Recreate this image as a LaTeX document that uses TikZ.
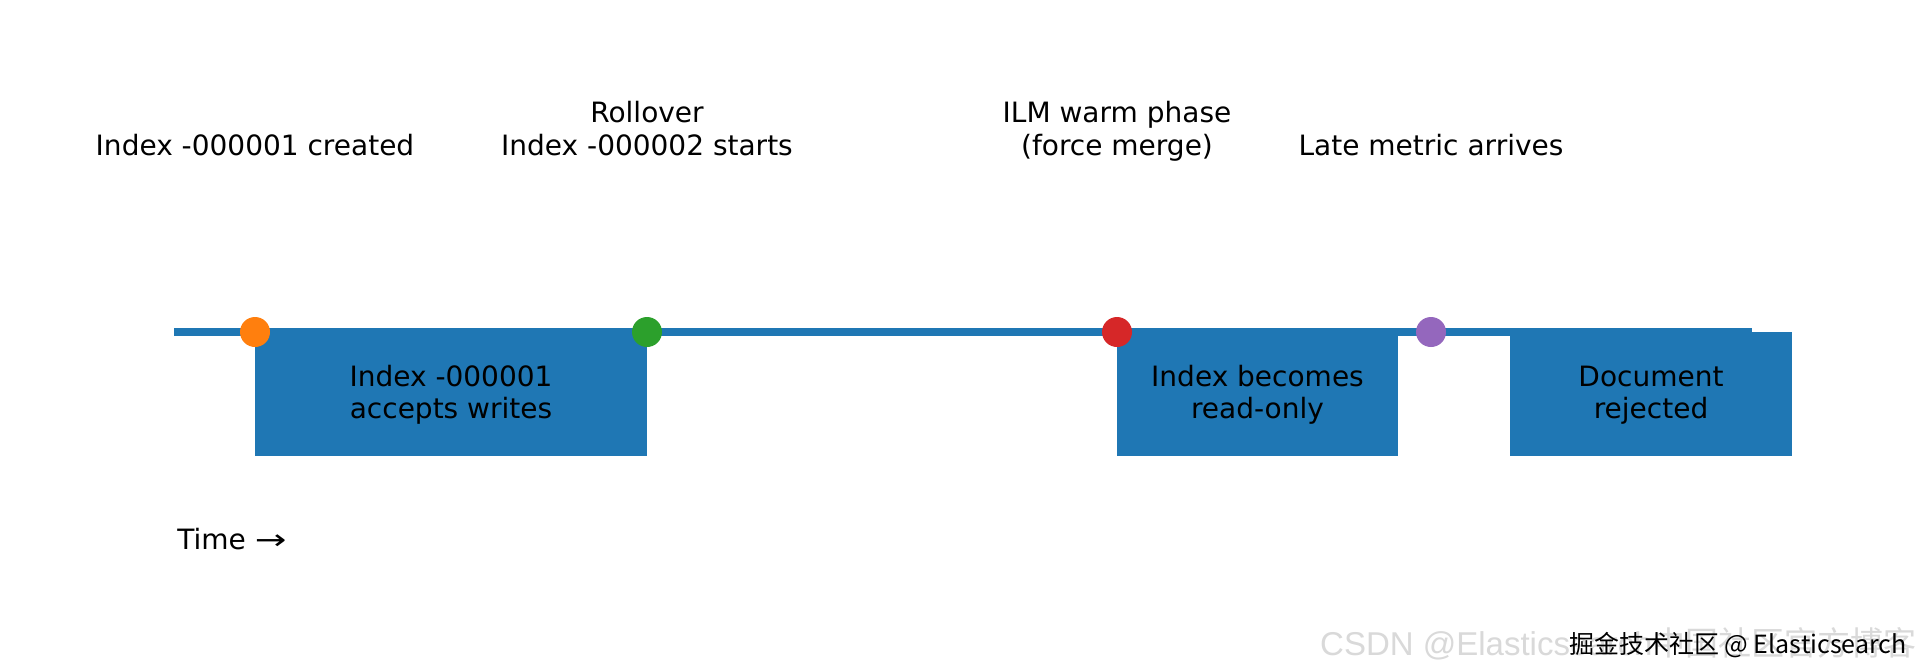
\documentclass[tikz,border=0pt]{standalone}
\usepackage{fontspec}
\setmainfont{DejaVu Sans}
\newfontfamily\cjkfont{Noto Sans CJK SC}
\newfontfamily\wmfont{Liberation Sans}
\definecolor{tabblue}{HTML}{1F77B4}
\definecolor{taborange}{HTML}{FF7F0E}
\definecolor{tabgreen}{HTML}{2CA02C}
\definecolor{tabred}{HTML}{D62728}
\definecolor{tabpurple}{HTML}{9467BD}
\begin{document}
\begin{tikzpicture}[x=0.5pt,y=-0.5pt,
  bar/.style={fill=tabblue, draw=none, inner sep=0pt, minimum height=62pt, anchor=north west},
  dot/.style={circle, fill=#1, draw=none, inner sep=0pt, minimum size=15pt},
  lbl/.style={font=\fontsize{14pt}{16.5pt}\selectfont, inner sep=0pt, anchor=base, align=center},
  tl/.style={line width=4pt, draw=tabblue}]
\useasboundingbox[fill=white] (0,0) rectangle (1920,664);
% bars
\node[bar, minimum width=196pt] (b1) at (255,332) {};
\node[bar, minimum width=140.5pt] (b2) at (1117,332) {};
\node[bar, minimum width=141pt] (b3) at (1510,332) {};
% timeline
\coordinate (ls) at (174,332);
\coordinate (le) at (1752,332);
\draw[tl] (ls) -- (le);
% events
\node[dot=taborange] (e1) at (255,332) {};
\node[dot=tabgreen] (e2) at (647,332) {};
\node[dot=tabred] (e3) at (1117,332) {};
\node[dot=tabpurple] (e4) at (1431,332) {};
% event labels
\node[lbl] (l1) at (255,155) {Index -000001 created};
\node[lbl] (l2a) at (647,122) {Rollover};
\node[lbl] (l2b) at (647,155) {Index -000002 starts};
\node[lbl] (l3a) at (1117,122) {ILM warm phase};
\node[lbl] (l3b) at (1117,155) {(force merge)};
\node[lbl] (l4) at (1431,155) {Late metric arrives};
% bar labels
\node[lbl] (t1a) at (451,386) {Index -000001};
\node[lbl] (t1b) at (451,418) {accepts writes};
\node[lbl] (t2a) at (1257.5,386) {Index becomes};
\node[lbl] (t2b) at (1257.5,418) {read-only};
\node[lbl] (t3a) at (1651,386) {Document};
\node[lbl] (t3b) at (1651,418) {rejected};
% axis label
\node[lbl, anchor=base west] (time) at (177,549) {Time \scalebox{1.35}[1]{→}};
% watermark
\node[inner sep=0pt, anchor=base east, text=black!15, font=\fontsize{16.5pt}{18pt}\wmfont] (wm1) at (1917,655) {CSDN @Elasticsearch{\cjkfont 中国社区官方博客}};
\node[inner sep=0pt, anchor=base east, text=black, font=\fontsize{12.5pt}{14pt}\cjkfont] (wm2) at (1907,653) {掘金技术社区 @ Elasticsearch};
\end{tikzpicture}
\end{document}
